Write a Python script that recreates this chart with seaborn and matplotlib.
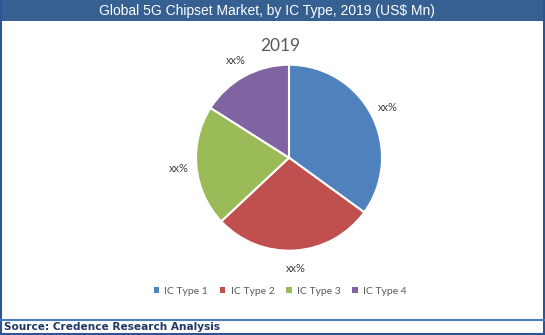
import matplotlib
matplotlib.use("Agg")
import matplotlib.pyplot as plt
import seaborn as sns
import numpy as np
from matplotlib.patches import Rectangle
from matplotlib.lines import Line2D

sns.set_theme(style="white")
plt.rcParams['font.family'] = ['Liberation Sans', 'DejaVu Sans']

categories = ["IC Type 1", "IC Type 2", "IC Type 3", "IC Type 4"]
values = [35, 28, 21, 16]
slice_labels = ["xx%", "xx%", "xx%", "xx%"]
colors = ["#4F81BD", "#C0504D", "#9BBB59", "#8064A2"]
title = "Global 5G Chipset Market, by IC Type, 2019 (US$ Mn)"
subtitle = "2019"
source = "Source: Credence Research Analysis"

W, H = 545, 335
fig = plt.figure(figsize=(W / 100, H / 100), dpi=100)
fig.patch.set_facecolor("white")

# header bar
fig.patches.append(Rectangle((0, 1 - 21 / H), 1, 21 / H, transform=fig.transFigure,
                             facecolor="#366092", edgecolor="none", zorder=0))
fig.text(267 / W, 1 - 11 / H, title, color="white", fontsize=10,
         ha="center", va="center", family=["Liberation Sans", "DejaVu Sans"])

# borders
fig.lines.append(Line2D([0.5 / W, 0.5 / W], [0, 1], transform=fig.transFigure,
                        color="#2F5496", lw=1.5))
fig.lines.append(Line2D([1 - 0.8 / W, 1 - 0.8 / W], [0, 1], transform=fig.transFigure,
                        color="#2F5496", lw=1.5))
fig.lines.append(Line2D([0, 1], [0.6 / H, 0.6 / H], transform=fig.transFigure,
                        color="#2F5496", lw=1.5))
fig.lines.append(Line2D([0, 1], [1 - 319.5 / H, 1 - 319.5 / H], transform=fig.transFigure,
                        color="#4A7EBB", lw=1.5))

fig.text(4 / W, 1 - 327.5 / H, source, color="#1F3864", fontsize=7.6, fontweight="bold",
         ha="left", va="center", family=["DejaVu Sans"])

# pie axes: center (289, 157.7), radius 93
r = 93
cx, cy = 289, 157.7
ax = fig.add_axes([(cx - r) / W, 1 - (cy + r) / H, 2 * r / W, 2 * r / H])
wedges, texts = ax.pie(values, colors=colors, startangle=90, counterclock=False,
                       wedgeprops=dict(edgecolor="white", linewidth=1.5),
                       radius=1.0)
for w, lab in zip(wedges, slice_labels):
    ang = np.deg2rad((w.theta1 + w.theta2) / 2)
    ax.text(1.19 * np.cos(ang), 1.19 * np.sin(ang), lab, ha="center", va="center",
            fontsize=8, color="#404040", family=["Lato", "DejaVu Sans"])
ax.set_xlim(-1, 1)
ax.set_ylim(-1, 1)
ax.set_aspect("equal")
ax.axis("off")

fig.text(280 / W, 1 - 46 / H, subtitle, ha="center", va="center", fontsize=12.5,
         color="#595959", family=["Lato", "DejaVu Sans"])

# legend
handles = [Rectangle((0, 0), 1, 1, facecolor=c, edgecolor="none") for c in colors]
fig.legend(handles, categories, loc="center", bbox_to_anchor=(280 / W, 1 - 291 / H),
           ncol=4, frameon=False, handlelength=0.55, handleheight=0.55,
           handletextpad=0.5, columnspacing=1.1, labelcolor="#595959",
           prop={"family": ["Lato", "DejaVu Sans"], "size": 7.5})

fig.savefig("out.png", dpi=100, facecolor="white")
